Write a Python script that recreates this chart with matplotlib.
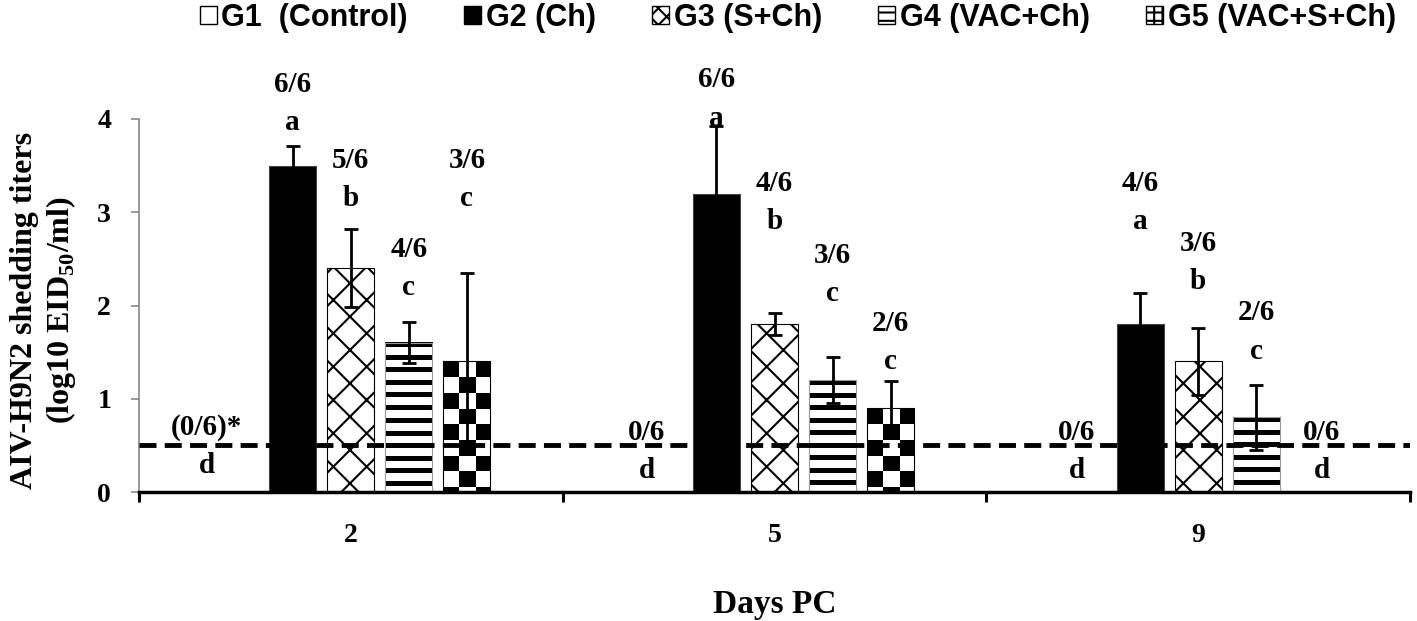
import matplotlib

matplotlib.use("Agg")
import matplotlib.pyplot as plt
import numpy as np
from matplotlib import font_manager
from matplotlib.patches import Patch

plt.rcParams["font.family"] = "Liberation Serif"
plt.rcParams["font.weight"] = "bold"
plt.rcParams["mathtext.fontset"] = "custom"
plt.rcParams["mathtext.rm"] = "Liberation Serif:bold"
plt.rcParams["mathtext.bf"] = "Liberation Serif:bold"
plt.rcParams["hatch.linewidth"] = 1.5

days = ["2", "5", "9"]
groups = ["G1  (Control)", "G2 (Ch)", "G3 (S+Ch)", "G4 (VAC+Ch)", "G5 (VAC+S+Ch)"]

# mean shedding titers (log10 EID50/ml) per day
g1 = [0.0, 0.0, 0.0]
g2 = [3.5, 3.2, 1.8]
g3 = [2.4, 1.8, 1.4]
g4 = [1.6, 1.2, 0.8]
g5 = [1.4, 0.9, 0.0]

g1_err = [0.0, 0.0, 0.0]
g2_err = [0.21, 0.72, 0.33]
g3_err = [0.42, 0.12, 0.36]
g4_err = [0.22, 0.25, 0.35]
g5_err = [0.95, 0.29, 0.0]

# shedding birds / total and significance letters
positives = [
    ["(0/6)*", "0/6", "0/6"],
    ["6/6", "6/6", "4/6"],
    ["5/6", "4/6", "3/6"],
    ["4/6", "3/6", "2/6"],
    ["3/6", "2/6", "0/6"],
]
letters = [
    ["d", "d", "d"],
    ["a", "a", "a"],
    ["b", "b", "b"],
    ["c", "c", "c"],
    ["c", "c", "d"],
]

detection_limit = 0.5

# where the hand placed labels sit (label height, small x nudge)
label_y = [
    [0.69, 0.64, 0.64],
    [4.37, 4.42, 3.31],
    [3.56, 3.31, 2.67],
    [2.60, 2.54, 1.92],
    [3.56, 1.81, 0.64],
]
label_dx = [
    [-0.066, -0.028, -0.012],
    [0, 0, 0],
    [0, 0, 0],
    [0, 0, 0],
    [0, 0, 0.017],
]

values = [g1, g2, g3, g4, g5]
errors = [g1_err, g2_err, g3_err, g4_err, g5_err]

names = {f.name for f in font_manager.fontManager.ttflist}
legend_font = "Liberation Sans Narrow" if "Liberation Sans Narrow" in names else "Liberation Sans"

fig = plt.figure(figsize=(14.17, 6.21), dpi=100)
ax = fig.add_axes([139 / 1417, 1 - 492 / 621, (1410 - 139) / 1417, (492 - 119) / 621])

x = np.arange(len(days))
width = 0.111
step = 0.137

ax.set_xlim(-0.5, 2.5)
ax.set_ylim(0, 4)

styles = [
    dict(facecolor="white", edgecolor="black", linewidth=0.8),
    dict(facecolor="black", edgecolor="#444444", linewidth=0.8),
    dict(facecolor="white", edgecolor="black", linewidth=0.8, hatch="x"),
    dict(facecolor="none", edgecolor="#999999", linewidth=0.8),
    dict(facecolor="none", edgecolor="black", linewidth=0.8),
]

p0 = ax.transData.transform((0, 0))
p1 = ax.transData.transform((1, 1))
ppu_x, ppu_y = p1 - p0


def stripes(h_px, w_px):
    rows = np.arange(int(round(h_px)))
    col = np.where((rows % 12.5) < 5, 0.0, 1.0)
    return np.repeat(col[:, None], max(int(round(w_px)), 1), axis=1)


def checker(h_px, w_px):
    rows = np.arange(int(round(h_px)))[:, None]
    cols = np.arange(int(round(w_px)))[None, :]
    cell = w_px / 3
    return (((rows // cell) + (cols // cell)) % 2).astype(float)


for i, (vals, errs) in enumerate(zip(values, errors)):
    pos = x + (i - 2) * step
    bars = ax.bar(pos, vals, width, zorder=2, **styles[i])
    for bar, v, e in zip(bars, vals, errs):
        if v <= 0:
            continue
        if i in (3, 4):
            w_px = bar.get_width() * ppu_x
            h_px = bar.get_height() * ppu_y
            img = stripes(h_px, w_px) if i == 3 else checker(h_px, w_px)
            ax.imshow(
                img,
                cmap="gray",
                vmin=0,
                vmax=1,
                extent=(bar.get_x(), bar.get_x() + bar.get_width(), 0, bar.get_height()),
                interpolation="nearest",
                aspect="auto",
                zorder=1.5,
            )
        if e > 0:
            ax.errorbar(
                bar.get_x() + bar.get_width() / 2,
                v,
                yerr=e,
                fmt="none",
                ecolor="black",
                elinewidth=2,
                capsize=5,
                capthick=2,
                zorder=4,
            )
    for j in range(len(days)):
        tx = pos[j] + label_dx[i][j]
        ax.text(tx, label_y[i][j], positives[i][j], ha="center", va="center",
                fontsize=21, zorder=5, clip_on=False)
        ax.text(tx, label_y[i][j] - 0.41, letters[i][j], ha="center", va="center",
                fontsize=21, zorder=5, clip_on=False)

ax.set_xlim(-0.5, 2.5)
ax.set_ylim(0, 4)

ax.axhline(detection_limit, color="black", linewidth=3.5, dashes=(3.5, 1.7), zorder=3)

ax.spines["top"].set_visible(False)
ax.spines["right"].set_visible(False)
ax.spines["left"].set_color("#888888")
ax.spines["left"].set_linewidth(1.2)
ax.spines["bottom"].set_color("black")
ax.spines["bottom"].set_linewidth(2.5)

ax.set_yticks(range(5))
ax.tick_params(axis="y", colors="#888888", labelcolor="black", length=6, width=1.2,
               pad=14, labelsize=20)
ax.set_xticks([-0.5, 0.5, 1.5, 2.5])
ax.set_xticklabels([])
ax.set_xticks(x, minor=True)
ax.set_xticklabels(days, minor=True)
ax.tick_params(axis="x", which="major", length=7, width=2.2, color="black", direction="out")
ax.tick_params(axis="x", which="minor", length=0, pad=22, labelsize=20)

fig.text(775 / 1417, 1 - 605 / 621, "Days PC", ha="center", va="center", fontsize=24)
fig.text(44 / 1417, 1 - 310 / 621,
         "AIV-H9N2 shedding titers\n(log10 EID$_\\mathbf{50}$/ml)",
         rotation=90, ha="center", va="center", multialignment="center",
         fontsize=23, linespacing=1.2)

handles = [
    Patch(facecolor="white", edgecolor="black"),
    Patch(facecolor="black", edgecolor="black"),
    Patch(facecolor="white", edgecolor="black", hatch="xx"),
    Patch(facecolor="white", edgecolor="black", hatch="--"),
    Patch(facecolor="white", edgecolor="black", hatch="++"),
]
fig.legend(
    handles,
    groups,
    loc="upper center",
    bbox_to_anchor=(0.563, 1.04),
    ncol=5,
    frameon=False,
    prop=dict(family=legend_font, weight="bold", size=22),
    handlelength=0.55,
    handleheight=0.55,
    handletextpad=0.15,
    columnspacing=1.85,
)

fig.savefig("out.png", dpi=100)
